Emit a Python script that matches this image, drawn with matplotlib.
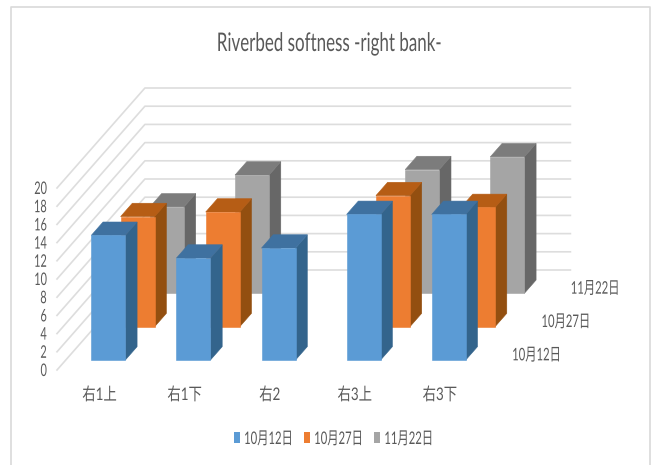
import matplotlib
matplotlib.use("Agg")
import matplotlib.pyplot as plt
from matplotlib.patches import Patch, Polygon
from matplotlib.patheffects import AbstractPathEffect
from matplotlib.transforms import Affine2D

# Chart data
categories = ["右1上", "右1下", "右2", "右3上", "右3下"]
series_names = ["10月12日", "10月27日", "11月22日"]
values_1012 = [13.7, 11.2, 12.3, 16.0, 16.0]
values_1027 = [12.1, 12.6, None, 14.4, 13.1]
values_1122 = [9.5, 13.0, None, 13.6, 15.0]
all_values = [values_1012, values_1027, values_1122]
y_ticks = list(range(0, 21, 2))

# Colours: front, top, side
face_colors = ["#5B9BD5", "#ED7D31", "#A5A5A5"]
top_colors = ["#3F71A0", "#B65D15", "#7C7C7C"]
side_colors = ["#33648C", "#934F10", "#676767"]
grid_color = "#DDDDDD"
text_color = "#595959"

plt.rcParams["font.family"] = ["Lato", "Noto Sans CJK JP", "DejaVu Sans"]


# The reference text is squeezed sideways, so narrow the glyphs when drawn
class Squeeze(AbstractPathEffect):
    def __init__(self, sx, anchor=0.0):
        super().__init__()
        self.sx = sx
        self.anchor = anchor

    def draw_path(self, renderer, gc, tpath, affine, rgbFace=None):
        ext = tpath.get_extents()
        px = ext.x0 + ext.width * self.anchor
        t = Affine2D().translate(-px, 0).scale(self.sx, 1).translate(px, 0) + affine
        renderer.draw_path(gc, tpath, t, rgbFace)


# Oblique projection of the Excel 3D chart, result in pixels
def project(cat, depth, value):
    return (57 + 85.1 * cat + 29.3 * depth, 370 - 9.1 * value - 33.33 * depth)


fig = plt.figure(figsize=(6.55, 4.65), dpi=100)
ax = fig.add_axes([0, 0, 1, 1])
ax.set_xlim(0, 655)
ax.set_ylim(465, 0)
ax.axis("off")

# Chart frame
ax.plot([11, 11, 650, 650], [465, 7, 7, 465], color="#D9D9D9", lw=1.2)

# Walls gridlines and y labels
n_cat = len(categories)
n_ser = len(series_names)
for v in y_ticks:
    a = project(0, 0, v)
    b = project(0, n_ser, v)
    c = project(n_cat, n_ser, v)
    ax.plot([a[0], b[0], c[0]], [a[1], b[1], c[1]], color=grid_color, lw=1.2, zorder=1)
    ax.text(a[0] - 10, a[1] + 1, str(v), ha="right", va="center", fontsize=12.5, color=text_color,
            path_effects=[Squeeze(0.63, 1.0)])

# Bars, back series first
bar_w = 0.4
bar_d = 0.4
z = 2
for s in reversed(range(n_ser)):
    for i, val in enumerate(all_values[s]):
        if val is None:
            continue
        x0 = i + 0.3
        x1 = x0 + bar_w
        d0 = s + 0.3
        d1 = d0 + bar_d
        front = [project(x0, d0, 0), project(x1, d0, 0), project(x1, d0, val), project(x0, d0, val)]
        side = [project(x1, d0, 0), project(x1, d1, 0), project(x1, d1, val), project(x1, d0, val)]
        top = [project(x0, d0, val), project(x1, d0, val), project(x1, d1, val), project(x0, d1, val)]
        ax.add_patch(Polygon(side, facecolor=side_colors[s], edgecolor=side_colors[s], lw=0.4, zorder=z))
        ax.add_patch(Polygon(top, facecolor=top_colors[s], edgecolor=top_colors[s], lw=0.4, zorder=z))
        ax.add_patch(Polygon(front, facecolor=face_colors[s], edgecolor=face_colors[s], lw=0.4, zorder=z))
        z += 1

# Category labels along the front edge
for i, name in enumerate(categories):
    p = project(i + 0.5, 0, 0)
    ax.text(p[0], p[1] + 25, name, ha="center", va="center", fontsize=12.5, color=text_color,
            path_effects=[Squeeze(0.77, 0.5)])

# Series labels along the right edge
for s, name in enumerate(series_names):
    p = project(n_cat, s + 0.5, 0)
    ax.text(p[0] + 14.5, p[1] + 2, name, ha="left", va="center", fontsize=12.5, color=text_color,
            path_effects=[Squeeze(0.65, 0.0)])

ax.text(330, 43.5, "Riverbed softness -right bank-", ha="center", va="center", fontsize=18.5,
        color=text_color, path_effects=[Squeeze(0.66, 0.5)])

# Legend, spacing allows for the narrowed labels
handles = [Patch(facecolor=c, label=n) for c, n in zip(face_colors, series_names)]
leg = ax.legend(handles=handles, ncol=3, loc="center left", bbox_to_anchor=(233.7, 439),
                bbox_transform=ax.transData, frameon=False, fontsize=12.5,
                handlelength=0.37, handleheight=0.6, handletextpad=0.2, columnspacing=-0.84,
                borderpad=0, borderaxespad=0, labelcolor=text_color)
for t in leg.get_texts():
    t.set_path_effects([Squeeze(0.65, 0.0)])

fig.savefig("out.png", dpi=100)
